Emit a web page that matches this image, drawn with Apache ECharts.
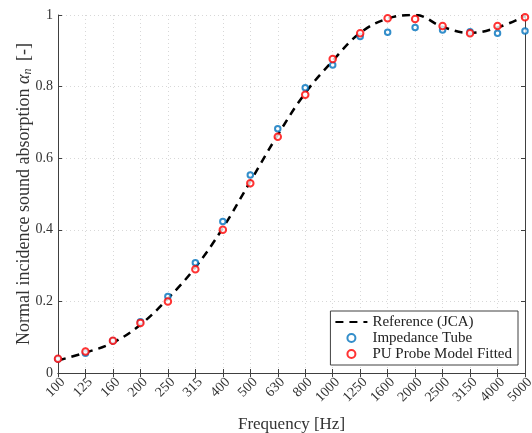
<!DOCTYPE html>
<html>
<head>
<meta charset="utf-8">
<script src="https://cdn.jsdelivr.net/npm/echarts@6/dist/echarts.min.js"></script>
<style>
  html, body { margin: 0; padding: 0; background: #fff; }
  #chart { width: 532px; height: 433px; }
</style>
</head>
<body>
<div id="chart"></div>
<script>
var frequencies = ['100', '125', '160', '200', '250', '315', '400', '500', '630', '800',
                   '1000', '1250', '1600', '2000', '2500', '3150', '4000', '5000'];

// Reference (JCA) curve, read at each band
var referenceJCA = [0.035, 0.057, 0.085, 0.135, 0.208, 0.295, 0.405, 0.535, 0.665, 0.782,
                    0.872, 0.950, 0.990, 1.000, 0.967, 0.950, 0.965, 0.997];

// Impedance tube measurement
var impedanceTube = [0.039, 0.055, 0.090, 0.143, 0.214, 0.308, 0.423, 0.553, 0.682, 0.797,
                     0.860, 0.940, 0.952, 0.965, 0.958, 0.953, 0.949, 0.955];

// PU probe, model fitted
var puProbe = [0.040, 0.060, 0.090, 0.140, 0.200, 0.290, 0.400, 0.530, 0.660, 0.777,
               0.877, 0.949, 0.991, 0.989, 0.969, 0.949, 0.969, 0.994];

var yTicks = { min: 0, max: 1, interval: 0.2 };

var serif = 'Liberation Serif';
var axisColor = '#404040';
var textColor = '#333';

var chart = echarts.init(document.getElementById('chart'));

chart.setOption({
    animation: false,
    backgroundColor: '#fff',
    grid: { left: 58, right: 7, top: 15, bottom: 60, outerBoundsMode: 'none', containLabel: false },
    legend: {
        orient: 'vertical',
        right: 14,
        bottom: 68,
        backgroundColor: '#fff',
        borderColor: '#404040',
        borderWidth: 1,
        padding: [3, 6, 3, 4],
        itemGap: 0,
        itemWidth: 32,
        itemHeight: 8,
        textStyle: { fontFamily: serif, fontSize: 15, lineHeight: 16, color: '#222' },
        data: [
            { name: 'Reference (JCA)', itemStyle: { opacity: 0, color: 'rgba(0,0,0,0)', borderWidth: 0 } },
            'Impedance Tube',
            'PU Probe Model Fitted'
        ]
    },
    xAxis: [{
        type: 'category',
        data: frequencies,
        boundaryGap: false,
        name: 'Frequency [Hz]',
        nameLocation: 'middle',
        nameGap: 43,
        nameMoveOverlap: false,
        nameTextStyle: { fontFamily: serif, fontSize: 17, color: textColor },
        axisLine: { lineStyle: { color: axisColor, width: 1 } },
        axisTick: { inside: true, length: 4, alignWithLabel: true, lineStyle: { color: axisColor } },
        axisLabel: {
            interval: 0, rotate: 45, verticalAlign: 'top',
            fontFamily: serif, fontSize: 14, color: textColor, margin: 2
        },
        splitLine: { show: true, interval: 0, lineStyle: { color: '#d8d8d8', type: [1, 3] } }
    }, {
        type: 'category',
        data: frequencies,
        boundaryGap: false,
        position: 'top',
        axisLine: { lineStyle: { color: axisColor, width: 1 } },
        axisTick: { inside: true, length: 4, interval: 0, lineStyle: { color: axisColor } },
        axisLabel: { show: false },
        splitLine: { show: false }
    }],
    yAxis: [{
        type: 'value',
        min: yTicks.min,
        max: yTicks.max,
        interval: yTicks.interval,
        name: 'Normal incidence sound absorption {a|α}{b|n} [-]',
        nameLocation: 'middle',
        nameGap: 24,
        nameMoveOverlap: false,
        nameTextStyle: {
            fontFamily: serif, fontSize: 18, color: textColor,
            rich: {
                a: { fontFamily: serif, fontSize: 18, fontStyle: 'italic', color: textColor },
                b: { fontFamily: serif, fontSize: 12, fontStyle: 'italic', color: textColor, padding: [8, 3, 0, 0] }
            }
        },
        axisLine: { show: true, lineStyle: { color: axisColor, width: 1 } },
        axisTick: { show: true, inside: true, length: 4, lineStyle: { color: axisColor } },
        axisLabel: { fontFamily: serif, fontSize: 14, color: textColor, margin: 5 },
        splitLine: { show: true, lineStyle: { color: '#d8d8d8', type: [1, 3] } }
    }, {
        type: 'value',
        min: yTicks.min,
        max: yTicks.max,
        interval: yTicks.interval,
        position: 'right',
        axisLine: { show: true, lineStyle: { color: axisColor, width: 1 } },
        axisTick: { show: true, inside: true, length: 4, lineStyle: { color: axisColor } },
        axisLabel: { show: false },
        splitLine: { show: false }
    }],
    series: [{
        name: 'Reference (JCA)',
        type: 'line',
        data: referenceJCA,
        smooth: 0.4,
        symbol: 'none',
        z: 2,
        lineStyle: { color: '#000', width: 2.5, type: [8, 6] },
        itemStyle: { color: '#000' }
    }, {
        name: 'Impedance Tube',
        type: 'scatter',
        data: impedanceTube,
        symbol: 'emptyCircle',
        symbolSize: 5.5,
        z: 3,
        itemStyle: { color: '#0072BD', borderColor: '#0072BD', borderWidth: 2.5 }
    }, {
        name: 'PU Probe Model Fitted',
        type: 'scatter',
        data: puProbe,
        symbol: 'emptyCircle',
        symbolSize: 6.5,
        z: 4,
        itemStyle: { color: '#ff0000', borderColor: '#ff0000', borderWidth: 1.5 }
    }]
});
</script>
</body>
</html>
